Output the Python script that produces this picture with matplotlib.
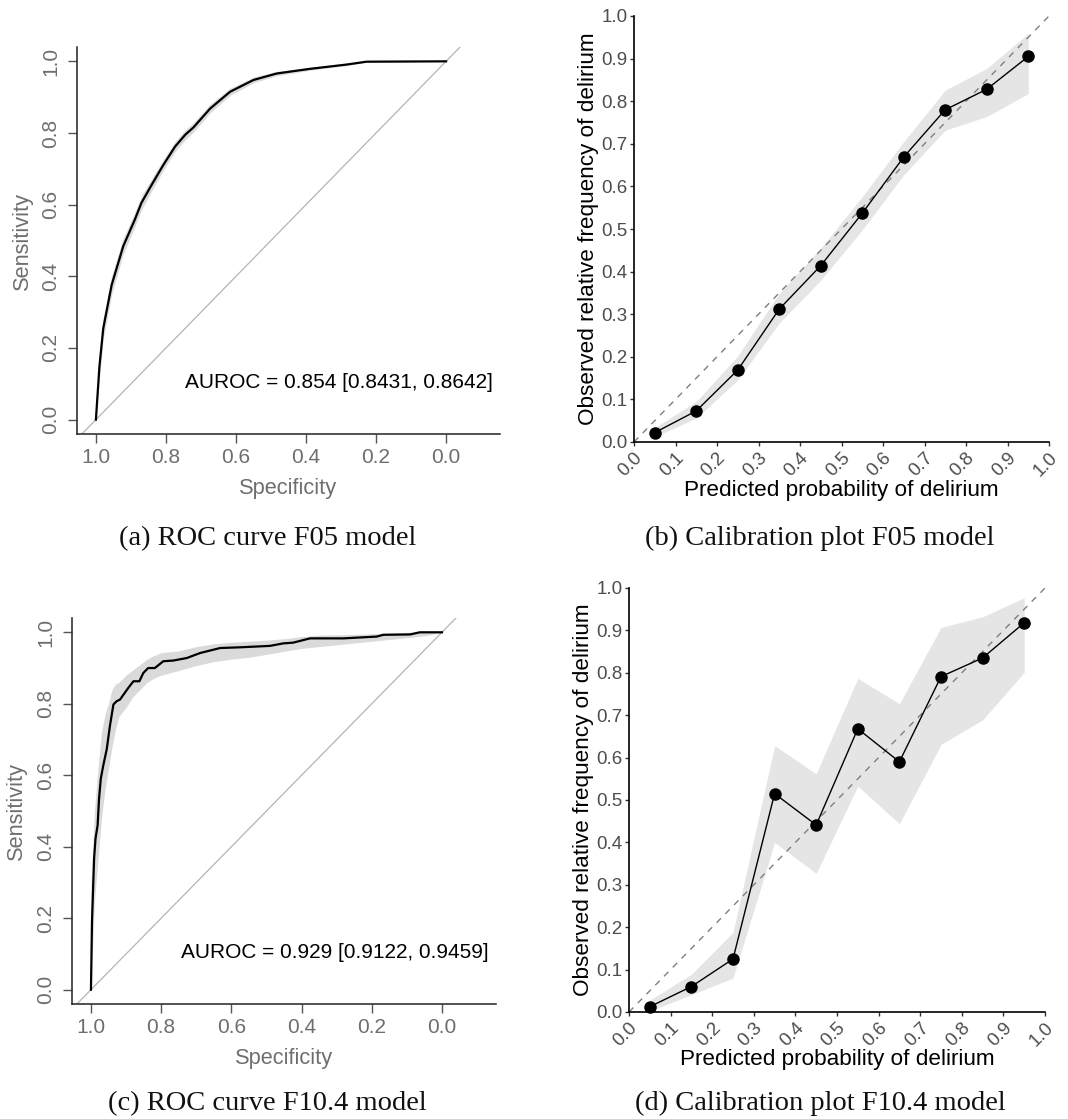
import numpy as np
import matplotlib
matplotlib.use("Agg")
import matplotlib.pyplot as plt

plt.rcParams['font.family'] = ['Liberation Sans', 'DejaVu Sans']

# ---------------- data ----------------
# ROC F05 model (specificity, sensitivity) and CI band for sensitivity
roc_a_spec = [1.0, 0.99, 0.979, 0.955, 0.922, 0.889, 0.870, 0.841, 0.808, 0.774, 0.745,
              0.722, 0.674, 0.617, 0.550, 0.484, 0.389, 0.284, 0.227, 0.0]
roc_a_sens = [0.0, 0.148, 0.255, 0.376, 0.484, 0.558, 0.605, 0.655, 0.710, 0.762, 0.795,
              0.815, 0.868, 0.915, 0.948, 0.966, 0.979, 0.991, 0.999, 1.0]
roc_a_lo = [0.0, 0.115, 0.225, 0.350, 0.462, 0.538, 0.585, 0.638, 0.695, 0.748, 0.781,
            0.802, 0.856, 0.905, 0.940, 0.960, 0.975, 0.988, 0.998, 1.0]
roc_a_hi = [0.01, 0.180, 0.285, 0.402, 0.506, 0.578, 0.625, 0.672, 0.725, 0.776, 0.809,
            0.828, 0.880, 0.925, 0.956, 0.972, 0.983, 0.994, 1.0, 1.0]
auc_a_text = "AUROC = 0.854 [0.8431, 0.8642]"

# ROC F10.4 model
roc_c_spec = [1.0, 0.997, 0.991, 0.987, 0.981, 0.977, 0.972, 0.965, 0.955, 0.946, 0.936,
              0.927, 0.917, 0.894, 0.879, 0.862, 0.851, 0.837, 0.818, 0.794, 0.765,
              0.727, 0.689, 0.632, 0.575, 0.490, 0.452, 0.424, 0.376, 0.281, 0.186,
              0.167, 0.091, 0.063, 0.0]
roc_c_sens = [0.0, 0.192, 0.368, 0.423, 0.460, 0.534, 0.590, 0.627, 0.673, 0.738, 0.798,
              0.807, 0.812, 0.844, 0.863, 0.863, 0.886, 0.900, 0.900, 0.919, 0.921,
              0.928, 0.942, 0.956, 0.958, 0.962, 0.969, 0.971, 0.983, 0.983, 0.988,
              0.993, 0.994, 1.0, 1.0]
band_c_spec = [1.0, 0.99, 0.98, 0.97, 0.96, 0.95, 0.94, 0.93, 0.92, 0.90, 0.88, 0.86, 0.84,
               0.82, 0.80, 0.75, 0.70, 0.65, 0.60, 0.55, 0.50, 0.45, 0.40, 0.35, 0.30,
               0.25, 0.20, 0.15, 0.10, 0.05, 0.0]
band_c_lo = [0.0, 0.25, 0.36, 0.48, 0.56, 0.62, 0.68, 0.73, 0.765, 0.79, 0.82, 0.84, 0.86,
             0.872, 0.88, 0.893, 0.907, 0.918, 0.925, 0.930, 0.938, 0.947, 0.955, 0.960,
             0.965, 0.970, 0.975, 0.980, 0.985, 0.990, 1.0]
band_c_hi = [0.30, 0.50, 0.62, 0.72, 0.77, 0.80, 0.84, 0.855, 0.86, 0.88, 0.895, 0.91,
             0.925, 0.935, 0.943, 0.948, 0.960, 0.968, 0.972, 0.975, 0.978, 0.982, 0.988,
             0.992, 0.993, 0.994, 0.996, 0.998, 1.0, 1.0, 1.0]
auc_c_text = "AUROC = 0.929 [0.9122, 0.9459]"

# Calibration
cal_bins = [0.05, 0.15, 0.25, 0.35, 0.45, 0.55, 0.65, 0.75, 0.85, 0.95]
cal_b_obs = [0.022, 0.073, 0.169, 0.312, 0.414, 0.537, 0.669, 0.780, 0.828, 0.905]
cal_b_lo = [0.012, 0.056, 0.146, 0.279, 0.380, 0.498, 0.627, 0.732, 0.764, 0.818]
cal_b_hi = [0.034, 0.095, 0.202, 0.349, 0.455, 0.576, 0.705, 0.826, 0.877, 0.959]
cal_d_obs = [0.0125, 0.060, 0.125, 0.515, 0.441, 0.668, 0.590, 0.791, 0.835, 0.918]
cal_d_lo = [0.002, 0.041, 0.080, 0.400, 0.327, 0.533, 0.444, 0.631, 0.689, 0.801]
cal_d_hi = [0.028, 0.089, 0.188, 0.628, 0.562, 0.787, 0.727, 0.907, 0.932, 0.977]

roc_ticks = [1.0, 0.8, 0.6, 0.4, 0.2, 0.0]
cal_ticks = [0.0, 0.1, 0.2, 0.3, 0.4, 0.5, 0.6, 0.7, 0.8, 0.9, 1.0]

captions = ["(a) ROC curve F05 model", "(b) Calibration plot F05 model",
            "(c) ROC curve F10.4 model", "(d) Calibration plot F10.4 model"]

# ---------------- figure ----------------
W, H = 1068, 1119
fig = plt.figure(figsize=(W / 100, H / 100), dpi=100)


def px_axes(left, top, right, bottom):
    return fig.add_axes([left / W, 1 - bottom / H, (right - left) / W, (bottom - top) / H])


AXGREY = '#6e6e6e'


def roc_panel(ax, spec, sens, bspec, blo, bhi, text):
    ax.fill_between(bspec, blo, bhi, color='#dadada', lw=0, zorder=1)
    ax.axline((1, 0), (0, 1), color='#b4b4b4', lw=0.9, zorder=2)
    ax.plot(spec, sens, color='black', lw=1.6, zorder=3)
    ax.set_xlim(1.054, -0.154)
    ax.set_ylim(-0.04, 1.04)
    for s in ['top', 'right']:
        ax.spines[s].set_visible(False)
    for s in ['left', 'bottom']:
        ax.spines[s].set_linewidth(1.1)
        ax.spines[s].set_color('#222222')
    ax.set_xticks(roc_ticks)
    ax.set_xticklabels([f"{t:.1f}" for t in roc_ticks])
    ax.set_yticks(roc_ticks[::-1])
    ax.set_yticklabels([f"{t:.1f}" for t in roc_ticks[::-1]], rotation=90, va='center')
    ax.tick_params(axis='both', length=6.5, width=1.0, color='#555555',
                   labelcolor=AXGREY, labelsize=15)
    ax.tick_params(axis='x', pad=3.5)
    ax.tick_params(axis='y', pad=5.5)
    ax.set_xlabel("Specificity", color=AXGREY, fontsize=15.7)
    ax.set_ylabel("Sensitivity", color=AXGREY, fontsize=15.7)
    ax.xaxis.set_label_coords(0.5, -0.142)
    ax.xaxis.label.set_va('center')
    ax.yaxis.set_label_coords(-0.130, 0.5)
    ax.yaxis.label.set_va('center')
    ax.text(-0.134, 0.104, text, ha='right', va='center', fontsize=15, color='black')


def cal_panel(ax, obs, lo, hi):
    ax.fill_between(cal_bins, lo, hi, color='#e5e5e5', lw=0, zorder=1)
    ax.plot([0, 1], [0, 1], color='#7f7f7f', lw=1.0, ls=(0, (4.5, 4.5)), zorder=2)
    ax.plot(cal_bins, obs, color='black', lw=1.0, zorder=3)
    ax.plot(cal_bins, obs, 'o', color='black', ms=8, zorder=4, clip_on=False)
    ax.set_xlim(0, 1)
    ax.set_ylim(0, 1)
    for s in ['top', 'right']:
        ax.spines[s].set_visible(False)
    for s in ['left', 'bottom']:
        ax.spines[s].set_linewidth(1.2)
        ax.spines[s].set_color('black')
    ax.set_xticks(cal_ticks)
    ax.set_xticklabels([f"{t:.1f}" for t in cal_ticks], rotation=45, ha='right',
                       va='top', rotation_mode='anchor')
    ax.set_yticks(cal_ticks)
    ax.set_yticklabels([f"{t:.1f}" for t in cal_ticks])
    ax.tick_params(axis='both', length=3, width=1.0, color='#333333',
                   labelcolor='#4d4d4d', labelsize=13.5)
    ax.tick_params(axis='x', pad=2)
    ax.tick_params(axis='y', pad=1.5)
    ax.set_xlabel("Predicted probability of delirium", fontsize=16.2, color='black')
    ax.set_ylabel("Observed relative frequency of delirium", fontsize=16.2, color='black')
    ax.xaxis.set_label_coords(0.5, -0.113)
    ax.xaxis.label.set_va('center')
    ax.yaxis.set_label_coords(-0.110, 0.5)
    ax.yaxis.label.set_va('center')


ax_a = px_axes(77, 47, 500, 434)
roc_panel(ax_a, roc_a_spec, roc_a_sens, roc_a_spec, roc_a_lo, roc_a_hi, auc_a_text)

ax_c = px_axes(72, 618, 496, 1004)
roc_panel(ax_c, roc_c_spec, roc_c_sens, band_c_spec, band_c_lo, band_c_hi, auc_c_text)

ax_b = px_axes(634, 16, 1049, 442)
cal_panel(ax_b, cal_b_obs, cal_b_lo, cal_b_hi)

ax_d = px_axes(629, 588, 1045, 1012)
cal_panel(ax_d, cal_d_obs, cal_d_lo, cal_d_hi)

cap_font = dict(family=['Liberation Serif', 'DejaVu Serif'], fontsize=20.5, ha='center',
                va='baseline', color='#111111')
fig.text(268 / W, 1 - 545 / H, captions[0], **cap_font)
fig.text(820 / W, 1 - 545 / H, captions[1], **cap_font)
fig.text(267 / W, 1 - 1110 / H, captions[2], **cap_font)
fig.text(820 / W, 1 - 1110 / H, captions[3], **cap_font)

fig.savefig("out.png", dpi=100, facecolor='white')
